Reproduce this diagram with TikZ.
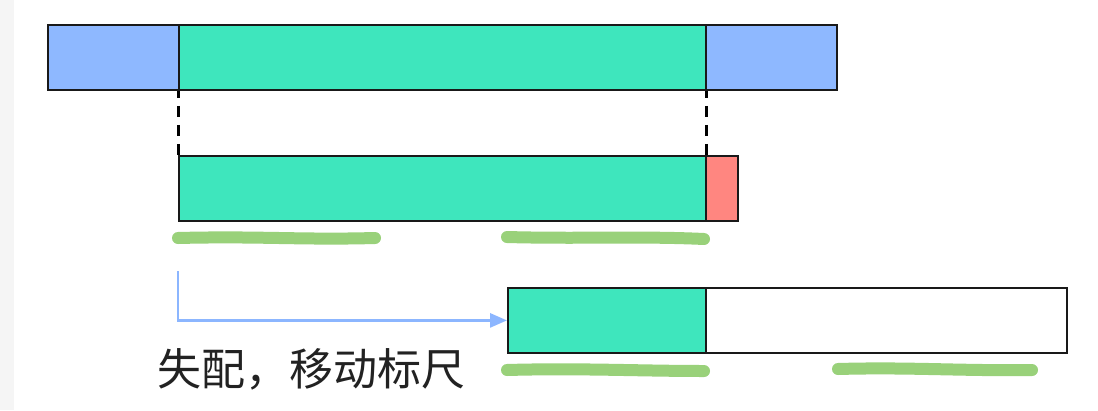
\documentclass[tikz,border=0pt]{standalone}
\usepackage{fontspec}
\newfontfamily\cjk{Noto Sans CJK SC}
\usetikzlibrary{arrows.meta}
\definecolor{segG}{RGB}{62,230,189}
\definecolor{segB}{RGB}{142,184,255}
\definecolor{segR}{RGB}{255,134,128}
\definecolor{hl}{RGB}{153,209,122}
\definecolor{arr}{RGB}{140,182,255}
\definecolor{side}{RGB}{245,245,245}
\definecolor{ink}{RGB}{34,34,34}
\tikzset{
  seg/.style={draw=black!90, line width=1.8pt, inner sep=0pt, anchor=north west, minimum height=65pt},
  guide/.style={line width=3pt, dash pattern=on 11pt off 8pt, dash phase=4pt},
  mark line/.style={hl, line width=12pt, line cap=round},
  move/.style={arr, line width=2.8pt, -{Triangle[length=17pt,width=14pt]}}
}
\begin{document}
\begin{tikzpicture}[x=1pt,y=-1pt]
\useasboundingbox (0,0) rectangle (1098,410);
\fill[white] (0,0) rectangle (1098,410);
\fill[side] (0,0) rectangle (14,410);
% top bar
\node[seg, fill=segB, minimum width=131pt] (tl) at (47,24) {};
\node[seg, fill=segG, minimum width=527pt] (tm) at (178,24) {};
\node[seg, fill=segB, minimum width=131pt] (tr) at (705,24) {};
% middle bar
\node[seg, fill=segG, minimum width=527pt] (mm) at (178,155) {};
\node[seg, fill=segR, minimum width=32pt] (mr) at (705,155) {};
% bottom bar
\node[seg, fill=segG, minimum width=198pt] (bm) at (507,287) {};
\node[seg, fill=white, minimum width=361pt] (br) at (705,287) {};
% dashed guides
\draw[guide] (tm.south west) -- (mm.north west);
\draw[guide] (tm.south east) -- (mm.north east);
% highlighter strokes
\draw[mark line] (178,238) .. controls (260,236) and (300,240) .. (375,238);
\draw[mark line] (507,237) .. controls (580,239) and (640,236) .. (704,239);
\draw[mark line] (507,370) .. controls (580,368) and (640,371) .. (704,371);
\draw[mark line] (838,369) .. controls (910,367) and (960,371) .. (1032,370);
% arrow
\coordinate (a0) at (178,271);
\draw[move] (a0) |- (bm.west);
% label
\node[font=\cjk\fontsize{44}{44}\selectfont, text=ink, inner sep=0pt] (lbl) at (311,369) {失配，移动标尺};
\end{tikzpicture}
\end{document}
